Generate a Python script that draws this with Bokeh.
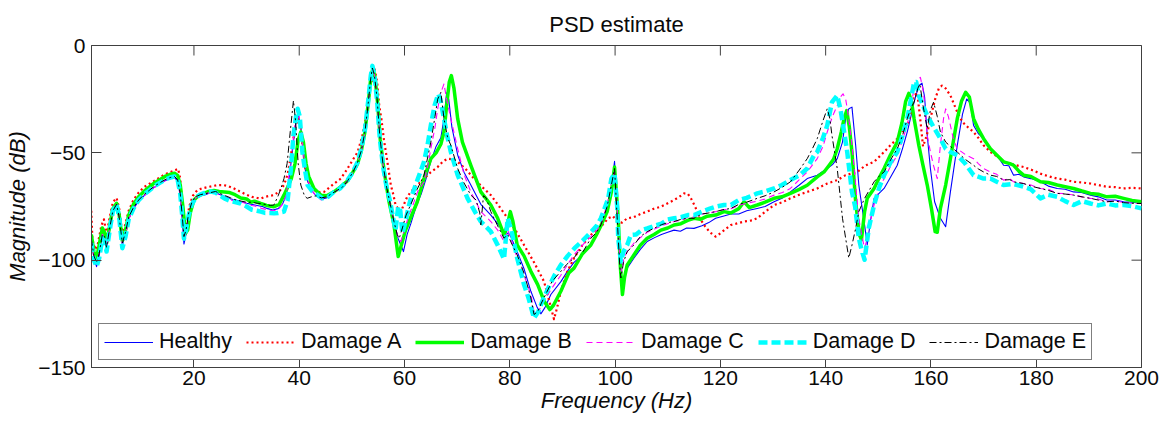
import math
from bokeh.plotting import figure
from bokeh.models import Range1d, FixedTicker, Legend, LegendItem
from bokeh.embed import file_html
from bokeh.resources import INLINE

# ---------------- data (frequency in Hz, magnitude in dB) ----------------
SERIES_NAMES = ["Healthy", "Damage A", "Damage B", "Damage C", "Damage D", "Damage E"]
X_TICKS = [20, 40, 60, 80, 100, 120, 140, 160, 180, 200]
Y_TICKS = [-150, -100, -50, 0]
X_START, X_END = 0.54, 200
Y_START, Y_END = -150, 0

HEALTHY = [
    (0.5, -90), (1.0, -99), (1.5, -103), (2.0, -98), (2.6, -88), (3.0, -90), (3.4, -95), (4.0, -86),
    (4.6, -77), (5.3, -74), (5.8, -80), (6.4, -93), (7.0, -88), (7.6, -81), (8.5, -76), (9.5, -72.5),
    (10.5, -70), (11.5, -68), (12.5, -66), (13.5, -64.5), (14.5, -63), (15.5, -62), (16.3, -61.5),
    (16.9, -63), (17.4, -70), (17.8, -82), (18.1, -92.5), (18.5, -88), (19.0, -80), (19.6, -75),
    (20.3, -71.5), (21.2, -70), (22.2, -69.5), (23.2, -68.5), (24.1, -68.5), (25.0, -69.5), (26.0, -70.5),
    (27.0, -71.5), (28.0, -72), (29.0, -72.8), (30.0, -73.5), (31.0, -74), (32.0, -74.5), (33.0, -75),
    (34.0, -76), (35.0, -76.6), (36.0, -76), (36.8, -74), (37.5, -70), (38.2, -60), (38.8, -47),
    (39.3, -37), (39.8, -32), (40.3, -38), (40.8, -52), (41.4, -62), (42.2, -67), (43.2, -70),
    (44.2, -71.5), (45.2, -71), (46.2, -69), (47.2, -67.5), (48.2, -66), (49.2, -63.5), (50.2, -59),
    (51.0, -55), (51.8, -49), (52.5, -40), (53.1, -27), (53.6, -15), (53.9, -10.5), (54.3, -14),
    (54.8, -25), (55.3, -42), (55.9, -55), (56.6, -66), (57.3, -74), (58.0, -82), (58.8, -90),
    (59.8, -96), (60.5, -88), (61.2, -83), (62.2, -75), (63.2, -69), (64.1, -62), (65.0, -54),
    (66.0, -47), (66.9, -43), (67.5, -34), (68.0, -22), (68.4, -25), (69.0, -38), (70.1, -51),
    (71.3, -59), (72.6, -65), (74.5, -74), (76.4, -79), (78.9, -86.7), (80.0, -88), (81.4, -96),
    (82.7, -104), (84.0, -114.5), (85.2, -122), (85.9, -125), (86.7, -122), (87.8, -116), (89.7, -110),
    (91.0, -105), (92.2, -101), (93.6, -98), (95.4, -93), (96.5, -88), (97.3, -84), (98.5, -76),
    (99.3, -66), (99.9, -54), (100.4, -75), (100.9, -100), (101.3, -111), (101.8, -107), (102.3, -103.7),
    (103.6, -99), (104.8, -95), (106.1, -91.3), (107.5, -89.5), (108.8, -88), (110.0, -87), (111.2, -86),
    (112.4, -86.5), (113.6, -85), (115.0, -85.2), (116.5, -84), (117.8, -82.5), (119.1, -80.5),
    (120.5, -79.5), (122.0, -78.5), (123.5, -78.5), (125.0, -77), (127.0, -75.9), (128.5, -75),
    (130.2, -72.8), (131.8, -71), (133.3, -68.2), (135.0, -65), (136.5, -62), (138.4, -60.4),
    (140.3, -57.3), (141.3, -55.5), (142.2, -52.7), (143.2, -45), (143.8, -34), (144.4, -29.5),
    (145.0, -28.7), (145.7, -46.5), (146.3, -65), (147.4, -83.6), (147.9, -92.9), (148.5, -82),
    (149.2, -71.2), (150.1, -69), (151.1, -66.6), (152.4, -61), (153.6, -55.8), (154.6, -48),
    (155.5, -40.3), (156.2, -33), (156.8, -26.4), (157.7, -18.7), (158.3, -17.5), (158.8, -24),
    (159.3, -41.9), (159.9, -57.3), (160.7, -72.8), (161.8, -80.5), (162.8, -84.4), (163.7, -68.2),
    (165.0, -46.5), (166.0, -32), (166.8, -24.9), (167.5, -27), (168.1, -37.2), (169.0, -41),
    (170.0, -43.4), (171.3, -48.1), (172.5, -51), (173.8, -55.8), (174.8, -56), (175.7, -60.4),
    (176.7, -60), (177.6, -61.2), (179.0, -62), (180.8, -63.5), (182.3, -65.5), (184.0, -66.6),
    (185.5, -67), (187.1, -68.2), (188.6, -68.5), (190.3, -69.7), (191.8, -70.5), (193.4, -72),
    (195.0, -72), (196.6, -72.8), (198.2, -73), (200.0, -73.6),
]

DAMAGE_A = [
    (0.5, -77), (0.7, -90), (1.2, -95), (1.7, -93), (2.4, -84), (2.9, -81), (3.4, -88), (4.0, -80),
    (4.6, -73), (5.3, -71), (5.8, -76), (6.4, -88), (7.0, -83), (7.6, -77), (8.5, -72), (9.5, -68.5),
    (10.5, -66), (11.5, -64.5), (12.5, -63), (13.5, -61.5), (14.5, -60), (15.5, -59), (16.5, -58),
    (17.0, -57.5), (17.4, -62), (17.8, -75), (18.2, -86), (18.6, -84), (19.1, -75), (19.8, -70),
    (20.6, -67.5), (21.5, -66.6), (22.5, -66), (23.5, -65.5), (24.5, -65), (25.5, -65), (26.5, -65.5),
    (27.5, -66.5), (28.9, -68.2), (30.0, -69.5), (31.0, -70.5), (32.0, -71), (32.7, -71.3), (33.5, -70.5),
    (34.5, -70), (35.2, -69.7), (36.2, -68), (37.1, -65), (37.8, -60), (38.5, -50), (39.1, -40),
    (39.7, -34), (40.2, -36), (40.7, -48), (41.3, -60), (42.0, -65), (43.0, -67.5), (44.0, -68.5),
    (44.7, -68.2), (45.8, -66), (46.8, -64), (47.9, -62), (49.0, -58), (50.0, -54), (51.1, -49.6),
    (52.0, -42), (52.8, -32), (53.5, -20), (54.3, -10.5), (54.8, -17), (55.2, -28), (55.6, -34.1),
    (56.1, -44), (56.8, -55), (57.4, -65), (57.9, -69.7), (58.3, -74.3), (58.9, -76.5), (59.3, -77.4),
    (59.9, -74), (60.5, -70.5), (61.2, -68.2), (62.4, -65), (63.7, -62), (65.0, -59), (66.3, -56.6),
    (67.3, -54), (68.2, -52.7), (69.2, -53), (70.1, -54.2), (71.6, -57.5), (73.2, -62), (74.8, -66),
    (76.4, -69.7), (78.0, -75), (79.6, -80.5), (81.2, -86.5), (82.7, -92.9), (84.6, -101), (86.5, -109.9),
    (87.6, -120), (88.4, -127.5), (89.0, -122), (89.7, -114.5), (90.8, -106), (92.2, -99), (93.8, -93),
    (95.4, -88.2), (96.7, -86), (97.6, -83.6), (98.7, -80.5), (99.6, -79.5), (100.4, -82), (101.3, -82.5),
    (102.3, -80.5), (103.5, -80), (104.8, -78.5), (106.1, -77.4), (107.4, -76), (108.7, -75.1),
    (110.0, -73.5), (111.2, -72), (112.2, -70.5), (113.1, -68.9), (113.8, -69), (114.4, -71.2),
    (115.2, -75), (116.0, -80), (116.9, -83.6), (118.0, -87), (119.1, -89), (120.0, -87.5),
    (121.0, -85.5), (122.0, -83.6), (123.0, -83), (124.5, -82), (126.0, -81.5), (127.0, -80.5),
    (128.5, -77.5), (130.2, -74.3), (131.8, -73), (133.3, -71.2), (135.0, -69.5), (136.5, -68.2),
    (138.4, -66.6), (140.3, -64.3), (142.2, -62.7), (143.8, -60.4), (146.0, -58.9), (147.5, -56),
    (149.2, -54.2), (151.1, -49.6), (152.3, -46.5), (153.6, -43.4), (154.6, -40), (155.5, -37.2),
    (156.3, -31), (156.8, -23.3), (157.4, -22), (158.0, -35), (158.5, -47), (159.2, -42), (160.0, -33),
    (160.8, -25), (161.5, -20), (162.1, -18.7), (162.8, -20), (163.7, -23.3), (165.0, -31),
    (166.0, -35.7), (167.0, -38), (168.1, -40.3), (169.0, -43), (170.0, -46.5), (171.3, -49.6),
    (172.5, -51.5), (173.8, -54.2), (175.7, -55.5), (177.6, -56.6), (179.2, -58), (180.8, -59.7),
    (182.4, -61), (184.0, -62), (185.5, -62.5), (187.1, -63.5), (188.7, -63.8), (190.3, -64.3),
    (191.8, -65), (193.4, -65.8), (195.0, -66), (196.6, -66.6), (198.2, -66.3), (200.0, -66.6),
]

DAMAGE_B = [
    (0.5, -88), (1.0, -96), (1.5, -99), (2.0, -93), (2.6, -85), (3.0, -87), (3.4, -92), (4.0, -84),
    (4.6, -76), (5.3, -73.5), (5.8, -79), (6.4, -91), (7.0, -86), (7.6, -79), (8.5, -74), (9.5, -70.5),
    (10.5, -68), (11.5, -66), (12.5, -64), (13.5, -62.5), (14.5, -61), (15.5, -60), (16.3, -59.5),
    (16.9, -60.5), (17.4, -65), (17.9, -75), (18.4, -87.5), (18.8, -86), (19.3, -78), (20.0, -72),
    (20.8, -70), (21.8, -69), (22.8, -68), (23.8, -67.5), (24.8, -68), (25.8, -68.2), (26.8, -68.5),
    (27.8, -69.5), (28.9, -71), (30.0, -71.5), (30.8, -73), (31.5, -72.5), (32.7, -73.6), (33.8, -74.5),
    (35.2, -75.1), (36.2, -74), (37.1, -69.7), (37.8, -66), (38.5, -62), (39.2, -55), (39.8, -44),
    (40.3, -40.3), (40.8, -45), (41.3, -55), (41.8, -61), (42.8, -66.6), (44.1, -69.7), (45.2, -70),
    (46.6, -68.2), (47.8, -66), (49.2, -63), (50.2, -59), (51.1, -55), (51.8, -49), (52.5, -40),
    (53.1, -27), (53.6, -15), (54.0, -10.5), (54.4, -15), (54.9, -27), (55.4, -44), (56.1, -58),
    (57.0, -72), (58.0, -83.6), (58.8, -98.3), (59.4, -93), (60.2, -86), (61.2, -80), (62.4, -73),
    (63.7, -62), (65.0, -52.7), (66.0, -50), (66.9, -46), (67.5, -40.3), (68.0, -28), (68.5, -17),
    (68.9, -14), (69.4, -20), (70.1, -34.1), (71.0, -45), (72.6, -55.8), (74.5, -68.2), (76.4, -74.3),
    (77.7, -80.5), (78.9, -88.2), (79.5, -84), (80.1, -77.4), (80.6, -82), (81.4, -92.9), (82.7, -98),
    (84.0, -105.2), (85.3, -111.4), (86.5, -119), (87.6, -123), (88.3, -121), (89.7, -114.5),
    (91.2, -106), (92.2, -103.7), (93.8, -97), (95.4, -92.9), (96.5, -88), (97.3, -84), (98.5, -77.4),
    (99.3, -68.2), (99.9, -56.6), (100.6, -80.5), (101.0, -103), (101.4, -116), (101.8, -108),
    (102.3, -102.2), (103.6, -97.5), (104.8, -93), (106.1, -89.8), (107.4, -88), (108.7, -86),
    (110.0, -85), (111.2, -83.6), (112.5, -83), (113.8, -81.5), (115.0, -80.5), (116.2, -81),
    (117.5, -79.5), (119.1, -79), (120.7, -77.4), (122.0, -78), (123.5, -76), (124.5, -72.8),
    (125.5, -75.5), (127.0, -74.3), (128.5, -73), (130.2, -71.2), (131.7, -70.5), (133.3, -68.9),
    (135.0, -67), (136.5, -65.1), (138.4, -61.2), (139.7, -58.9), (140.6, -56), (141.5, -53),
    (142.2, -48.1), (143.0, -40), (143.5, -34), (144.0, -30.3), (144.5, -38), (145.0, -49.6),
    (145.7, -72.8), (146.4, -88), (146.8, -90.5), (147.4, -77.4), (147.9, -71.2), (149.2, -66.6),
    (150.1, -62), (151.1, -57.3), (152.3, -51), (153.6, -45), (154.5, -36), (155.2, -26), (155.8, -22.3),
    (156.3, -26), (156.8, -34.1), (157.7, -46.5), (158.5, -56), (159.3, -65), (160.1, -76),
    (160.8, -86.7), (161.2, -87), (161.8, -75.9), (162.8, -65), (163.7, -52.7), (165.0, -34.1),
    (165.8, -26), (166.6, -21.8), (167.3, -24), (168.1, -34.1), (169.0, -39), (170.0, -43.4),
    (171.3, -48.1), (172.5, -51), (173.8, -54.2), (175.0, -55), (175.7, -55.8), (176.7, -58.5),
    (177.6, -60.4), (179.0, -61), (180.8, -63.5), (182.3, -63.8), (184.0, -65), (185.5, -65.8),
    (187.1, -66.6), (188.7, -67.8), (190.3, -68.9), (191.8, -69.3), (193.4, -70.5), (195.0, -70.2),
    (196.6, -71.2), (198.2, -72.2), (200.0, -72.8),
]

DAMAGE_C = [
    (0.5, -91), (1.0, -99), (1.5, -102), (2.0, -97), (2.6, -88), (3.0, -89), (3.4, -94), (4.0, -85),
    (4.6, -77), (5.3, -74), (5.8, -80), (6.4, -93), (7.0, -88), (7.6, -81), (8.5, -76), (9.5, -72.5),
    (10.5, -70), (11.5, -68), (12.5, -66), (13.5, -64.5), (14.5, -63), (15.5, -62), (16.3, -61.5),
    (16.9, -63), (17.4, -70), (17.8, -82), (18.1, -90), (18.5, -87), (19.0, -79), (19.6, -74),
    (20.3, -71), (21.2, -69.5), (22.2, -69), (23.2, -68.5), (24.1, -68.5), (25.0, -70), (26.0, -71.5),
    (27.0, -72), (28.0, -72.5), (29.0, -73), (30.0, -73.5), (31.0, -74.5), (32.0, -75), (33.0, -76),
    (34.0, -76.5), (35.0, -77), (36.0, -76.5), (36.8, -74), (37.5, -70), (38.2, -58), (38.8, -45),
    (39.3, -35), (39.8, -31), (40.3, -37), (40.8, -50), (41.4, -61), (42.2, -67), (43.2, -70),
    (44.2, -72), (45.2, -71), (46.2, -69), (47.2, -67.5), (48.2, -66), (49.2, -63), (50.2, -59),
    (51.0, -55), (51.8, -49), (52.5, -40), (53.1, -27), (53.6, -15), (53.9, -10), (54.3, -14),
    (54.8, -25), (55.3, -42), (55.9, -55), (56.6, -66), (57.3, -74), (58.0, -82), (58.7, -89),
    (59.3, -91.3), (60.0, -86), (60.7, -80), (61.5, -75), (62.5, -68), (63.7, -63.5), (64.5, -55),
    (65.0, -48.1), (65.8, -38), (66.3, -29.5), (66.9, -22), (67.5, -17.9), (68.0, -25), (68.8, -34.1),
    (70.1, -48.1), (71.3, -60), (72.6, -68.2), (74.5, -77.4), (76.4, -82), (77.7, -86), (78.9, -91.3),
    (79.6, -86), (80.2, -90), (81.4, -99), (82.7, -107), (84.0, -116), (84.6, -123.8), (85.3, -125),
    (86.0, -121), (87.0, -117), (88.0, -113), (89.7, -107), (91.0, -102), (92.2, -97.5), (93.8, -93),
    (95.4, -89), (96.5, -86), (97.3, -83.6), (98.5, -74), (99.3, -64), (99.9, -58.9), (100.5, -80),
    (100.9, -100), (101.2, -105.2), (101.7, -99), (102.3, -96), (103.6, -92), (104.8, -89.5),
    (106.1, -87), (107.5, -85.5), (108.8, -84), (110.0, -83), (111.2, -82), (112.5, -81.5),
    (113.8, -80), (115.0, -80), (116.5, -78.5), (117.8, -78), (119.1, -77.4), (120.5, -76.5),
    (122.0, -76), (123.5, -74.5), (125.0, -73.5), (127.0, -72.5), (128.5, -71.5), (130.2, -69.7),
    (131.8, -68.5), (133.3, -66.6), (135.0, -62.5), (136.5, -58.9), (138.4, -52.7), (139.5, -47),
    (140.3, -40.3), (141.3, -33), (142.2, -28), (142.8, -24), (143.3, -22.5), (143.8, -24.9),
    (144.4, -34), (145.0, -46.5), (145.7, -65), (146.3, -80.5), (146.9, -89), (147.4, -94.4),
    (147.9, -90), (148.5, -82), (149.2, -74.3), (150.1, -67), (151.1, -62), (152.4, -56),
    (153.6, -51.1), (154.6, -44), (155.5, -37.2), (156.2, -28), (156.8, -20.2), (157.5, -16),
    (158.0, -14.8), (158.6, -22), (159.3, -41.9), (159.9, -49.6), (160.5, -56), (161.2, -62),
    (161.8, -46.5), (162.4, -34), (162.8, -29.5), (163.3, -33), (163.7, -37.2), (164.3, -44),
    (165.0, -48.1), (166.7, -51.1), (168.1, -52.7), (169.0, -55), (170.0, -57.3), (171.3, -58.9),
    (172.5, -60), (173.8, -62.7), (175.0, -62), (175.7, -63.5), (177.6, -64.3), (179.0, -65),
    (180.8, -66.6), (182.3, -67), (184.0, -68.9), (185.5, -69), (187.1, -69.7), (188.7, -70.5),
    (190.3, -71.2), (191.8, -71.5), (193.4, -72.8), (195.0, -72.3), (196.6, -73.2), (198.2, -73.5),
    (200.0, -73.6),
]

DAMAGE_D = [
    (0.5, -92), (1.0, -100), (1.5, -103), (2.0, -99), (2.6, -89.8), (3.0, -91), (3.4, -96), (4.0, -86),
    (4.6, -77), (5.3, -74), (5.8, -80), (6.4, -94.4), (7.0, -89), (7.6, -81), (8.5, -76), (9.5, -72),
    (10.5, -69.5), (11.5, -67.5), (12.5, -65.5), (13.5, -64), (14.5, -62.5), (15.5, -61.5), (16.3, -61),
    (16.9, -62.5), (17.4, -69), (17.8, -80), (18.1, -90), (18.5, -86), (19.0, -79), (19.6, -74),
    (20.3, -71), (21.2, -69.5), (22.2, -68.5), (23.2, -68), (24.1, -68.5), (25.0, -70), (26.0, -71.5),
    (27.0, -72.5), (28.0, -73), (28.9, -73.6), (30.0, -75), (31.0, -76.5), (32.0, -77), (32.7, -77.4),
    (33.5, -78), (34.5, -78), (35.2, -78.2), (36.0, -78), (37.1, -77.4), (37.8, -72), (38.4, -58),
    (38.9, -42), (39.4, -33), (39.7, -29.5), (40.1, -33), (40.6, -49.6), (41.1, -58), (41.6, -65.1),
    (42.5, -68), (43.5, -69.7), (44.4, -71.2), (45.5, -70.5), (46.6, -68.2), (47.8, -66.5), (49.2, -62.7),
    (50.2, -59), (51.1, -54.2), (51.8, -48), (52.5, -39), (53.1, -26), (53.6, -14), (53.9, -9.5),
    (54.3, -14), (54.8, -26), (55.3, -43), (55.9, -56), (56.6, -66), (57.3, -73), (57.8, -80),
    (58.3, -86), (58.8, -75), (59.2, -77), (59.6, -87.5), (60.2, -82), (60.7, -76), (61.2, -71.2),
    (62.4, -63), (63.7, -54.2), (64.4, -46), (65.0, -37.2), (65.7, -28), (66.4, -22.6), (66.8, -25),
    (67.5, -34.1), (68.1, -42), (68.8, -49.6), (70.1, -60.4), (72.0, -71.3), (73.5, -78), (74.5, -82),
    (75.8, -85.2), (76.4, -86.7), (77.7, -93), (78.9, -99.5), (79.6, -80.5), (80.3, -86), (81.4, -99),
    (82.7, -111.4), (83.6, -118), (84.6, -127), (85.4, -124), (86.2, -119), (87.5, -112), (88.5, -107),
    (89.7, -102.2), (91.0, -98), (92.3, -94.4), (93.8, -91), (95.5, -86.7), (96.5, -84), (97.3, -80.5),
    (98.0, -76), (98.7, -71.2), (99.3, -62), (99.9, -59.7), (100.4, -75), (100.6, -89.8), (101.1, -100.6),
    (101.6, -96), (102.3, -92.9), (103.0, -88.2), (104.0, -88), (105.0, -86), (106.1, -85.2),
    (107.5, -84), (108.8, -83), (110.0, -81), (111.2, -80.5), (112.5, -80), (113.8, -79), (115.0, -79),
    (116.9, -77), (118.0, -76), (119.1, -75.1), (120.7, -74.3), (122.0, -74.3), (123.5, -72),
    (125.0, -71), (127.0, -68.9), (128.5, -68), (130.2, -66.6), (131.7, -65), (133.3, -62.7),
    (135.0, -60.5), (136.5, -57.3), (137.8, -51.1), (138.4, -49.6), (139.5, -43), (140.3, -37.2),
    (141.2, -26.4), (142.2, -23.3), (142.8, -29.5), (143.5, -40), (144.1, -49.6), (145.0, -68.2),
    (145.6, -75), (146.3, -89.8), (146.8, -95), (147.4, -99.8), (148.2, -85), (149.2, -74.3),
    (150.2, -66), (151.1, -60.4), (152.4, -54), (153.6, -49.6), (154.6, -42), (155.5, -34.1),
    (156.2, -25), (156.8, -17.2), (157.2, -17), (157.7, -23.3), (158.5, -28), (159.3, -32.6),
    (160.5, -38), (161.8, -43.4), (162.8, -48.1), (163.7, -49.6), (165.0, -51.1), (166.5, -55),
    (168.1, -60.4), (170.0, -62), (171.3, -62), (172.5, -63.5), (173.8, -65), (175.7, -64.5),
    (177.6, -65.8), (179.0, -67), (180.8, -71.2), (182.3, -69.5), (184.0, -70.5), (185.5, -72.5),
    (187.1, -74.3), (188.7, -72.5), (190.3, -73.6), (191.8, -74.5), (193.4, -73.6), (195.0, -74.5),
    (196.6, -74.3), (198.2, -74.8), (200.0, -75.9),
]

DAMAGE_E = [
    (0.5, -90), (1.0, -98), (1.5, -101), (2.0, -97), (2.6, -88), (3.0, -89), (3.4, -94), (4.0, -85),
    (4.6, -77), (5.3, -74), (5.8, -80), (6.4, -92), (7.0, -87), (7.6, -80), (8.5, -75.5), (9.5, -72),
    (10.5, -69.5), (11.5, -67.5), (12.5, -65.5), (13.5, -64), (14.5, -62.5), (15.5, -61.5), (16.3, -61),
    (16.9, -62.5), (17.4, -69), (17.8, -80), (18.1, -89), (18.5, -86), (19.0, -78), (19.6, -73),
    (20.3, -70.5), (21.2, -69.5), (22.2, -69), (23.2, -68.5), (24.1, -68), (25.0, -69), (26.0, -70),
    (27.0, -71), (28.0, -72), (29.0, -72.5), (30.0, -73), (31.0, -73), (32.0, -73.5), (32.7, -73.6),
    (33.5, -74), (34.5, -74.5), (35.2, -74.3), (36.0, -70), (36.6, -66), (37.1, -62), (37.7, -55),
    (38.3, -40), (38.9, -25.7), (39.3, -35), (39.8, -55), (40.3, -65), (41.0, -70), (41.5, -71.2),
    (42.3, -70.5), (43.2, -70), (44.2, -71), (45.2, -70.5), (46.2, -69), (47.2, -67.5), (48.2, -66),
    (49.2, -63), (50.2, -59), (51.0, -55), (51.8, -49), (52.5, -40), (53.1, -27), (53.6, -15),
    (53.9, -10.5), (54.3, -14), (54.8, -25), (55.3, -42), (55.9, -55), (56.6, -66), (57.3, -74),
    (58.0, -82), (58.6, -88), (59.0, -89.8), (59.6, -85), (60.3, -79), (61.2, -74), (62.4, -67),
    (63.7, -60.4), (65.0, -45), (65.8, -33), (66.3, -25), (66.9, -21.8), (67.5, -34.1), (68.2, -43),
    (68.8, -46.5), (70.1, -57.3), (71.3, -64), (72.6, -69.7), (73.6, -72), (74.3, -78), (74.5, -83.6),
    (75.0, -70), (75.5, -71), (76.4, -77.4), (77.7, -84), (78.9, -89.8), (79.6, -88), (80.3, -92),
    (81.4, -97.5), (82.7, -106), (84.0, -117.6), (84.6, -125.3), (85.3, -124), (86.0, -120),
    (87.0, -115), (88.0, -110), (89.7, -105.2), (90.8, -102), (92.2, -99), (93.3, -95), (93.8, -96.5),
    (95.4, -89.8), (96.5, -87), (97.3, -83.6), (98.5, -75), (99.3, -65), (99.9, -57.3), (100.5, -85),
    (100.9, -103), (101.1, -108.3), (101.6, -101), (102.3, -96), (103.6, -92.9), (104.8, -89),
    (106.1, -86.7), (107.5, -85), (108.8, -83.5), (110.0, -82.5), (111.2, -82), (112.5, -81),
    (113.8, -80.5), (115.0, -80.5), (116.5, -78.5), (117.8, -78), (119.1, -77.4), (120.5, -76.5),
    (122.0, -75.9), (123.5, -74), (125.0, -73), (127.0, -71.2), (128.5, -70), (130.2, -68.2),
    (131.8, -66), (133.3, -63.5), (135.0, -58), (136.5, -52.7), (137.5, -48), (138.4, -43.4),
    (139.5, -35), (140.3, -29.5), (140.8, -34), (141.2, -41.9), (142.2, -57.3), (143.2, -80.5),
    (143.8, -89.8), (144.4, -99), (145.0, -93), (145.7, -85.2), (146.3, -77.4), (147.4, -71.2),
    (149.2, -63.5), (150.1, -61), (151.1, -58.9), (152.4, -53), (153.6, -48.1), (154.6, -42),
    (155.5, -34.1), (156.2, -29), (156.8, -26.4), (157.5, -20), (157.9, -17.9), (158.5, -28),
    (159.3, -38.8), (159.9, -30), (160.5, -26.4), (161.2, -33), (161.8, -40.3), (162.8, -45),
    (163.7, -47), (165.0, -49.6), (166.5, -53), (168.1, -55.8), (169.0, -57.5), (170.0, -58.9),
    (171.3, -60.4), (172.5, -61), (173.8, -62.7), (175.0, -62.5), (175.7, -63.5), (177.6, -64.3),
    (179.0, -65.5), (180.8, -66.6), (182.3, -67.5), (184.0, -68.9), (185.5, -69.2), (187.1, -69.7),
    (188.7, -70.5), (190.3, -71.2), (191.8, -72), (193.4, -72.8), (195.0, -72.5), (196.6, -73.2),
    (198.2, -73.5), (200.0, -73.6),
]

ALL_SERIES = [HEALTHY, DAMAGE_A, DAMAGE_B, DAMAGE_C, DAMAGE_D, DAMAGE_E]

# ---------------- styles ----------------
STYLES = [
    dict(line_color="#0000ff", line_width=1.1, line_dash="solid"),
    dict(line_color="#ff0000", line_width=2.2, line_dash="2 3"),
    dict(line_color="#00ff00", line_width=3.5, line_dash="solid"),
    dict(line_color="#ff00ff", line_width=1.1, line_dash="6 4"),
    dict(line_color="#00ffff", line_width=4.5, line_dash="9 4"),
    dict(line_color="#000000", line_width=1.0, line_dash="7 3 2 3"),
]

FONT = "Liberation Sans"
AXIS_COLOR = "#404040"
TEXT_COLOR = "#0a0a0a"

p = figure(width=1162, height=421, output_backend="svg", toolbar_location=None,
           x_range=Range1d(X_START, X_END), y_range=Range1d(Y_START, Y_END),
           min_border_left=91, min_border_right=21, min_border_top=44, min_border_bottom=54,
           title="PSD estimate")

p.title.text_font = FONT
p.title.text_font_size = "22px"
p.title.text_font_style = "normal"
p.title.text_color = TEXT_COLOR
p.title.align = "center"
p.title.standoff = 18
p.title.offset = 0

p.xgrid.visible = False
p.ygrid.visible = False
p.outline_line_color = AXIS_COLOR
p.outline_line_width = 1
p.background_fill_color = "white"
p.border_fill_color = "white"

renderers = []
for data, style in zip(ALL_SERIES, STYLES):
    f, db = zip(*data)
    r = p.line(list(f), list(db), line_join="round", **style)
    renderers.append(r)

# box-style inward tick marks on the top and right edges
p.scatter(X_TICKS, [Y_END] * len(X_TICKS), marker="dash", size=20, angle=math.pi / 2,
          line_color=AXIS_COLOR, line_width=1)
p.scatter([X_END] * len(Y_TICKS), Y_TICKS, marker="dash", size=20,
          line_color=AXIS_COLOR, line_width=1)

# bottom / left axes
xa = p.xaxis[0]
ya = p.yaxis[0]
xa.ticker = FixedTicker(ticks=X_TICKS)
ya.ticker = FixedTicker(ticks=Y_TICKS)
for ax in (xa, ya):
    ax.major_tick_in = 10
    ax.major_tick_out = 0
    ax.minor_tick_in = 0
    ax.minor_tick_out = 0
    ax.axis_line_color = AXIS_COLOR
    ax.major_tick_line_color = AXIS_COLOR
    ax.major_label_text_font = FONT
    ax.major_label_text_font_size = "21px"
    ax.major_label_text_color = TEXT_COLOR
    ax.axis_label_text_font = FONT
    ax.axis_label_text_font_size = "22px"
    ax.axis_label_text_font_style = "italic"
    ax.axis_label_text_color = TEXT_COLOR
xa.axis_label = "Frequency (Hz)"
ya.axis_label = "Magnitude (dB)"
xa.major_label_standoff = 3
xa.axis_label_standoff = 0
ya.major_label_standoff = 6
ya.axis_label_standoff = 5

legend = Legend(items=[LegendItem(label=n, renderers=[r]) for n, r in zip(SERIES_NAMES, renderers)],
                orientation="horizontal", location="bottom_left")
legend.margin = 7
legend.padding = 5
legend.spacing = 14
legend.glyph_width = 49
legend.glyph_height = 20
legend.label_standoff = 6
legend.label_text_font = FONT
legend.label_text_font_size = "21.5px"
legend.label_text_color = TEXT_COLOR
legend.border_line_color = "black"
legend.border_line_width = 1
legend.background_fill_color = "white"
legend.background_fill_alpha = 1.0
p.add_layout(legend)

open("out.html", "w").write(file_html(p, INLINE))
